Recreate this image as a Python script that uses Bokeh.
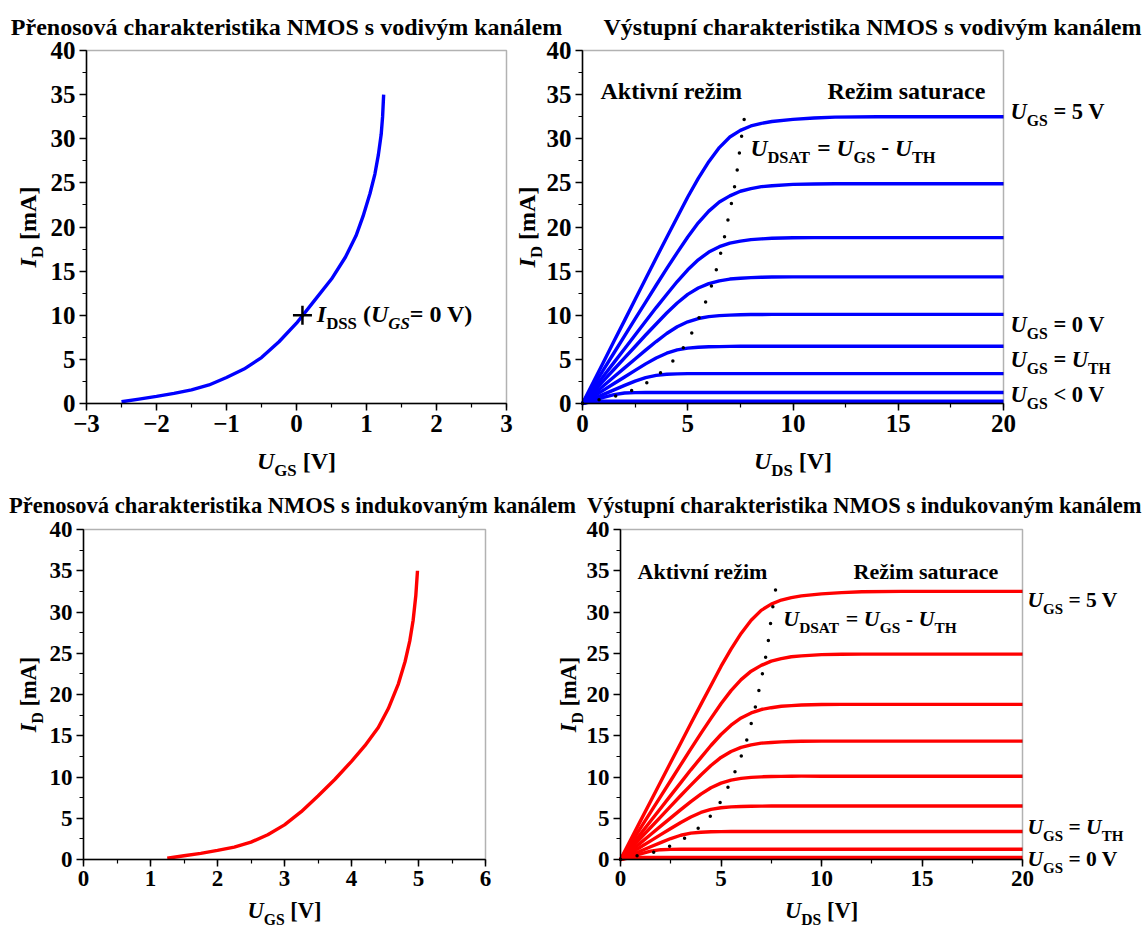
from math import pi
from bokeh.plotting import figure
from bokeh.models import Range1d, SingleIntervalTicker, Label, LinearAxis, BoxAnnotation
from bokeh.embed import file_html
from bokeh.resources import INLINE

FONT = "Liberation Serif"

# ---------------- data ----------------
# transfer characteristic, depletion (vodivy kanal)
ugs_dep = [-2.5, -2.25, -2.0, -1.75, -1.5, -1.25, -1.0, -0.75, -0.5, -0.25, 0.0, 0.25, 0.5, 0.7,
           0.85, 0.95, 1.05, 1.12, 1.17, 1.21, 1.23, 1.245]
id_dep = [0.2, 0.5, 0.8, 1.15, 1.55, 2.1, 2.95, 3.9, 5.2, 7.0, 9.1, 11.6, 14.1, 16.6,
          19.0, 21.2, 23.8, 26.0, 28.2, 30.5, 32.5, 35.0]
idss_x = [0.085]
idss_y = [10.0]

# transfer characteristic, enhancement (indukovany kanal)
ugs_enh = [1.25, 1.5, 1.75, 2.0, 2.25, 2.5, 2.75, 3.0, 3.25, 3.5, 3.75, 4.0, 4.2, 4.4,
           4.55, 4.7, 4.8, 4.87, 4.92, 4.96, 4.985]
id_enh = [0.15, 0.45, 0.75, 1.1, 1.5, 2.1, 3.0, 4.2, 5.8, 7.7, 9.7, 11.9, 13.8, 16.0,
          18.3, 21.3, 24.0, 26.5, 29.0, 32.0, 35.0]

# output characteristics (same family in both panels)
uds = [0, 0.5, 1, 1.5, 2, 2.5, 3, 3.5, 4, 4.5, 5, 5.5, 6, 6.5, 7, 7.5, 8, 8.5, 9, 10, 11, 12, 14, 20]
id_out_1 = [0, 2.36, 4.71, 7.07, 9.42, 11.78, 14.13, 16.49, 18.8, 21.1, 23.4, 25.5, 27.4, 29.0,
            30.2, 30.95, 31.45, 31.75, 31.95, 32.2, 32.35, 32.45, 32.5, 32.5]
id_out_2 = [0, 1.92, 3.83, 5.75, 7.66, 9.58, 11.49, 13.4, 15.28, 17.1, 18.87, 20.47, 21.8, 22.83,
            23.53, 24.05, 24.35, 24.57, 24.68, 24.83, 24.88, 24.9, 24.9, 24.9]
id_out_3 = [0, 1.55, 3.11, 4.66, 6.21, 7.77, 9.32, 10.87, 12.35, 13.82, 15.15, 16.28, 17.16, 17.77,
            18.18, 18.4, 18.57, 18.65, 18.72, 18.78, 18.8, 18.8, 18.8, 18.8]
id_out_4 = [0, 1.29, 2.59, 3.88, 5.17, 6.46, 7.76, 9.01, 10.25, 11.39, 12.37, 13.09, 13.59, 13.9,
            14.1, 14.19, 14.26, 14.3, 14.33, 14.35, 14.35, 14.35, 14.35, 14.35]
id_out_5 = [0, 1.01, 2.02, 3.03, 4.04, 5.05, 6.05, 7.02, 7.93, 8.7, 9.26, 9.63, 9.84, 9.96,
            10.02, 10.06, 10.08, 10.09, 10.1, 10.1, 10.1, 10.1, 10.1, 10.1]
id_out_6 = [0, 0.75, 1.51, 2.26, 3.01, 3.76, 4.49, 5.16, 5.7, 6.07, 6.27, 6.38, 6.43, 6.45,
            6.47, 6.48, 6.48, 6.48, 6.48, 6.48, 6.48, 6.48, 6.48, 6.48]
id_out_7 = [0, 0.51, 1.03, 1.54, 2.05, 2.54, 2.94, 3.19, 3.31, 3.36, 3.38, 3.39, 3.39, 3.39,
            3.39, 3.39, 3.39, 3.39, 3.39, 3.39, 3.39, 3.39, 3.39, 3.39]
id_out_8 = [0, 0.34, 0.69, 1.01, 1.19, 1.23, 1.24, 1.24, 1.24, 1.24, 1.24, 1.24, 1.24, 1.24,
            1.24, 1.24, 1.24, 1.24, 1.24, 1.24, 1.24, 1.24, 1.24, 1.24]
id_out_9 = [0, 0.24, 0.26, 0.26, 0.26, 0.26, 0.26, 0.26, 0.26, 0.26, 0.26, 0.26, 0.26, 0.26,
            0.26, 0.26, 0.26, 0.26, 0.26, 0.26, 0.26, 0.26, 0.26, 0.26]
id_out_all = [id_out_1, id_out_2, id_out_3, id_out_4, id_out_5, id_out_6, id_out_7, id_out_8, id_out_9]

# U_DSAT boundary (dotted)
udsat_x = [0, 0.65, 1.26, 1.87, 2.43, 3.0, 3.51, 4.0, 4.49, 4.93, 5.26, 5.57, 5.90, 6.24,
           6.45, 6.64, 6.81, 6.97, 7.13, 7.27, 7.39, 7.49, 7.60, 7.72]
udsat_y = [0, 0.38, 0.64, 1.02, 1.58, 2.26, 3.09, 4.07, 5.3, 6.8, 8.3, 9.9, 11.8, 14.1,
           16.0, 17.7, 19.6, 21.5, 23.3, 25.2, 27.1, 29.1, 31.0, 32.8]

titles = ["Přenosová charakteristika NMOS s vodivým kanálem",
          "Výstupní charakteristika NMOS s vodivým kanálem",
          "Přenosová charakteristika NMOS s indukovaným kanálem",
          "Výstupní charakteristika NMOS s indukovaným kanálem"]

xlim_tl, xlim_tr, xlim_bl, xlim_br = (-3, 3), (0, 20), (0, 6), (0, 20)
ylim = (0, 40)

# ---------------- page geometry (pixels from top-left) ----------------
W, H = 1145, 929
BOX_TL = (86, 506, 50, 403)
BOX_TR = (582, 1003, 50, 403)
BOX_BL = (83, 485, 529, 859)
BOX_BR = (620, 1022, 529, 859)


def xrange_for(lim, box):
    v0, v1 = lim
    s = (v1 - v0) / (box[1] - box[0])
    return Range1d(v0 - box[0] * s, v1 + (W - box[1]) * s)


def yrange_for(lim, box):
    v0, v1 = lim
    s = (v1 - v0) / (box[3] - box[2])
    return Range1d(v0 - (H - box[3]) * s, v1 + box[2] * s)


p = figure(width=W, height=H, title=None, output_backend="svg", toolbar_location=None,
           x_range=xrange_for(xlim_tl, BOX_TL), y_range=yrange_for(ylim, BOX_TL),
           extra_x_ranges={"tr": xrange_for(xlim_tr, BOX_TR), "bl": xrange_for(xlim_bl, BOX_BL),
                           "br": xrange_for(xlim_br, BOX_BR), "px": Range1d(0, W)},
           extra_y_ranges={"bot": yrange_for(ylim, BOX_BL), "py": Range1d(H, 0)},
           min_border=0, x_axis_location=None, y_axis_location=None)
p.grid.visible = False
p.outline_line_color = None
p.background_fill_color = "white"
p.border_fill_color = "white"

# ---------------- rich-text helper ----------------
REG = {' ': 250, '(': 333, ')': 333, '-': 333, '=': 570, '<': 570, '[': 333, ']': 333,
       'A': 722, 'D': 722, 'G': 778, 'H': 778, 'I': 389, 'M': 944, 'N': 722, 'O': 778,
       'P': 611, 'R': 722, 'S': 556, 'T': 667, 'U': 722, 'V': 722,
       'a': 500, 'c': 444, 'e': 444, 'i': 278, 'k': 556, 'm': 833, 'n': 556, 'r': 444,
       's': 389, 't': 333, 'u': 556, 'v': 500, 'í': 278, 'ž': 444}
ITA = {'I': 389, 'U': 722, 'G': 722, 'S': 556, ' ': 250}
SUB = 0.7
DROP = 0.28
BFIX = 0.4   # baseline correction (em)


def tw(s, size, italic):
    tab = ITA if italic else REG
    return sum(tab.get(ch, 500) for ch in s) * size / 1000.0


def rich(x, y, runs, size, xn="default", yn="default", dx=0.0, dy=0.0, align="left", vertical=False):
    pieces = []
    total = 0.0
    for t, it, sb in runs:
        fs = size * SUB if sb else size
        w = tw(t, fs, it)
        pieces.append((t, it, sb, fs, w))
        total += w
    cur = {"left": 0.0, "center": -total / 2.0, "right": -total}[align]
    for t, it, sb, fs, w in pieces:
        lead = len(t) - len(t.lstrip(" "))
        core = t.strip(" ")
        off = cur + tw(" " * lead, fs, it)
        drop = DROP * size if sb else 0.0
        if core:
            if vertical:
                xo, yo, ang = dx + drop - BFIX * fs, dy + off, pi / 2
            else:
                xo, yo, ang = dx + off, dy - drop + BFIX * fs, 0.0
            p.add_layout(Label(x=x, y=y, x_offset=xo, y_offset=yo, text=core, angle=ang,
                               x_range_name=xn, y_range_name=yn,
                               text_font=FONT,
                               text_font_style="bold italic" if it else "bold",
                               text_font_size=f"{fs:.1f}px", text_color="black",
                               text_align="left", text_baseline="alphabetic"))
        cur += w


def title_label(x, y, text, size, align):
    p.add_layout(Label(x=x, y=y, y_offset=BFIX * size, text=text, x_range_name="px", y_range_name="py",
                       text_font=FONT, text_font_style="bold", text_font_size=f"{size}px",
                       text_color="black", text_align=align, text_baseline="alphabetic"))


def setup_panel(xn, yn, xlim, xint, tick_size, overrides=None):
    xa = LinearAxis(x_range_name=xn, y_range_name=yn, fixed_location=ylim[0], bounds=xlim,
                    ticker=SingleIntervalTicker(interval=xint, num_minor_ticks=2))
    ya = LinearAxis(x_range_name=xn, y_range_name=yn, fixed_location=xlim[0], bounds=ylim,
                    ticker=SingleIntervalTicker(interval=5, num_minor_ticks=2))
    for ax in (xa, ya):
        ax.major_label_text_font = FONT
        ax.major_label_text_font_style = "bold"
        ax.major_label_text_font_size = f"{tick_size}px"
        ax.major_label_text_color = "black"
        ax.axis_line_color = "black"
        ax.axis_line_width = 1.5
        ax.major_tick_line_color = "black"
        ax.major_tick_line_width = 1.5
        ax.minor_tick_line_color = "black"
        ax.minor_tick_line_width = 1.2
        ax.major_tick_out = 7
        ax.major_tick_in = 0
        ax.minor_tick_out = 4
        ax.minor_tick_in = 0
        ax.major_label_standoff = 4
    if overrides:
        xa.major_label_overrides = overrides
    p.add_layout(xa, "below")
    p.add_layout(ya, "left")
    p.add_layout(BoxAnnotation(left=xlim[0], right=xlim[1], bottom=ylim[0], top=ylim[1],
                               x_range_name=xn, y_range_name=yn, fill_color=None, fill_alpha=0,
                               line_color="black", line_width=1.5))


IT, RG = True, False
ugs_lbl = [("U", IT, False), ("GS", RG, True), (" [V]", RG, False)]
uds_lbl = [("U", IT, False), ("DS", RG, True), (" [V]", RG, False)]
id_lbl = [("I", IT, False), ("D", RG, True), (" [mA]", RG, False)]
udsat_lbl = [("U", IT, False), ("DSAT", RG, True), (" = ", RG, False), ("U", IT, False),
             ("GS", RG, True), (" - ", RG, False), ("U", IT, False), ("TH", RG, True)]

# ---------------- titles ----------------
title_label(286, 36, titles[0], 24, "center")
title_label(1141, 36, titles[1], 24, "right")
title_label(292, 514, titles[2], 22.5, "center")
title_label(1141, 514, titles[3], 22.5, "right")

LW = 3.4

# ---------------- top-left ----------------
setup_panel("default", "default", xlim_tl, 1, 25, {-3: "−3", -2: "−2", -1: "−1"})
p.line(ugs_dep, id_dep, line_color="#0000FF", line_width=LW, line_join="round")
p.scatter(idss_x, idss_y, marker="cross", size=19, line_width=2.5, line_color="black")
rich(0.29, 10, [("I", IT, False), ("DSS", RG, True), (" (", RG, False), ("U", IT, False),
                ("GS", IT, True), ("= 0 V)", RG, False)], 24, dy=-8)
rich(0, 0, ugs_lbl, 24, dy=-67, align="center")
rich(-3, 20, id_lbl, 24, dx=-49, align="center", vertical=True)

# ---------------- top-right ----------------
setup_panel("tr", "default", xlim_tr, 5, 25)
for ys in id_out_all:
    p.line(uds, ys, line_color="#0000FF", line_width=LW, line_join="round", x_range_name="tr")
p.line(udsat_x, udsat_y, line_color="black", line_width=3.5, line_dash="0 17", line_cap="round",
       x_range_name="tr")
rich(0.855, 34.3, [("Aktivní režim", RG, False)], 24, xn="tr")
rich(19.14, 34.3, [("Režim saturace", RG, False)], 24, xn="tr", align="right")
rich(7.98, 27.9, udsat_lbl, 23.5, xn="tr")
rich(20, 32.07, [("U", IT, False), ("GS", RG, True), (" = 5 V", RG, False)], 22.5, xn="tr", dx=7)
rich(20, 7.93, [("U", IT, False), ("GS", RG, True), (" = 0 V", RG, False)], 22.5, xn="tr", dx=7)
rich(20, 3.97, [("U", IT, False), ("GS", RG, True), (" = ", RG, False), ("U", IT, False),
                ("TH", RG, True)], 22.5, xn="tr", dx=7)
rich(20, 0.0, [("U", IT, False), ("GS", RG, True), (" < 0 V", RG, False)], 22.5, xn="tr", dx=7)
rich(10, 0, uds_lbl, 24, xn="tr", dy=-67, align="center")
rich(0, 20, id_lbl, 24, xn="tr", dx=-46, align="center", vertical=True)

# ---------------- bottom-left ----------------
setup_panel("bl", "bot", xlim_bl, 1, 23)
p.line(ugs_enh, id_enh, line_color="#FF0000", line_width=LW, line_join="round",
       x_range_name="bl", y_range_name="bot")
rich(3, 0, ugs_lbl, 22.5, xn="bl", yn="bot", dy=-60, align="center")
rich(0, 20, id_lbl, 22.5, xn="bl", yn="bot", dx=-46, align="center", vertical=True)

# ---------------- bottom-right ----------------
setup_panel("br", "bot", xlim_br, 5, 23)
for ys in id_out_all:
    p.line(uds, ys, line_color="#FF0000", line_width=LW, line_join="round",
           x_range_name="br", y_range_name="bot")
p.line(udsat_x, udsat_y, line_color="black", line_width=3.5, line_dash="0 17", line_cap="round",
       x_range_name="br", y_range_name="bot")
rich(0.85, 33.9, [("Aktivní režim", RG, False)], 22, xn="br", yn="bot")
rich(18.8, 33.9, [("Režim saturace", RG, False)], 22, xn="br", yn="bot", align="right")
rich(8.1, 28.1, udsat_lbl, 22, xn="br", yn="bot")
rich(20, 30.4, [("U", IT, False), ("GS", RG, True), (" = 5 V", RG, False)], 21.5,
     xn="br", yn="bot", dx=5)
rich(20, 2.9, [("U", IT, False), ("GS", RG, True), (" = ", RG, False), ("U", IT, False),
               ("TH", RG, True)], 21.5, xn="br", yn="bot", dx=5)
rich(20, -0.97, [("U", IT, False), ("GS", RG, True), (" = 0 V", RG, False)], 21.5,
     xn="br", yn="bot", dx=5)
rich(10, 0, uds_lbl, 22.5, xn="br", yn="bot", dy=-60, align="center")
rich(0, 20, id_lbl, 22.5, xn="br", yn="bot", dx=-43, align="center", vertical=True)

open("out.html", "w").write(file_html(p, INLINE))
